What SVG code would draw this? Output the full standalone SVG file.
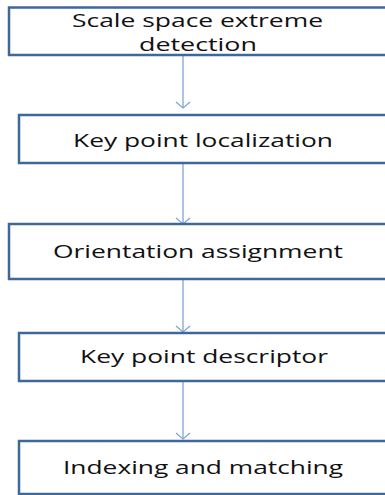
<svg xmlns="http://www.w3.org/2000/svg" width="385" height="495" viewBox="0 0 385 495">
<style>
.box{fill:#ffffff;stroke:#3F679A;stroke-width:2.5}
.lbl{font-family:"Open Sans","Liberation Sans",sans-serif;font-size:18px;fill:#111111;text-anchor:middle}
.con{stroke:#7FA6D6;stroke-width:1.3;fill:none}
</style>
<defs>
<marker id="ah" viewBox="0 0 16 8" refX="8" refY="7" markerWidth="16" markerHeight="8" markerUnits="userSpaceOnUse" orient="0">
<polyline points="1,1 8,7 15,1" fill="none" stroke="#7FA6D6" stroke-width="1.3"/>
</marker>
</defs>
<rect width="385" height="495" fill="#ffffff"/>
<g id="connectors">
<line class="con" x1="183" y1="56" x2="183" y2="108" marker-end="url(#ah)"/>
<line class="con" x1="183" y1="164" x2="183" y2="224" marker-end="url(#ah)"/>
<line class="con" x1="183" y1="272" x2="183" y2="332" marker-end="url(#ah)"/>
<line class="con" x1="183" y1="382" x2="183" y2="439" marker-end="url(#ah)"/>
</g>
<g id="n1">
<rect class="box" x="9" y="7.5" width="390" height="47.5"/>
<text class="lbl" x="197.5" y="27" textLength="251" lengthAdjust="spacingAndGlyphs">Scale space extreme</text>
<text class="lbl" x="198" y="51" textLength="118" lengthAdjust="spacingAndGlyphs">detection</text>
</g>
<g id="n2">
<rect class="box" x="19" y="115" width="380" height="48"/>
<text class="lbl" x="203" y="147" textLength="260" lengthAdjust="spacingAndGlyphs">Key point localization</text>
</g>
<g id="n3">
<rect class="box" x="9" y="224" width="390" height="55"/>
<text class="lbl" x="198" y="258" textLength="290" lengthAdjust="spacingAndGlyphs">Orientation assignment</text>
</g>
<g id="n4">
<rect class="box" x="19" y="333" width="380" height="48"/>
<text class="lbl" x="204" y="363" textLength="248" lengthAdjust="spacingAndGlyphs">Key point descriptor</text>
</g>
<g id="n5">
<rect class="box" x="19" y="441" width="380" height="53"/>
<text class="lbl" x="203" y="474" textLength="280" lengthAdjust="spacingAndGlyphs">Indexing and matching</text>
</g>
</svg>
